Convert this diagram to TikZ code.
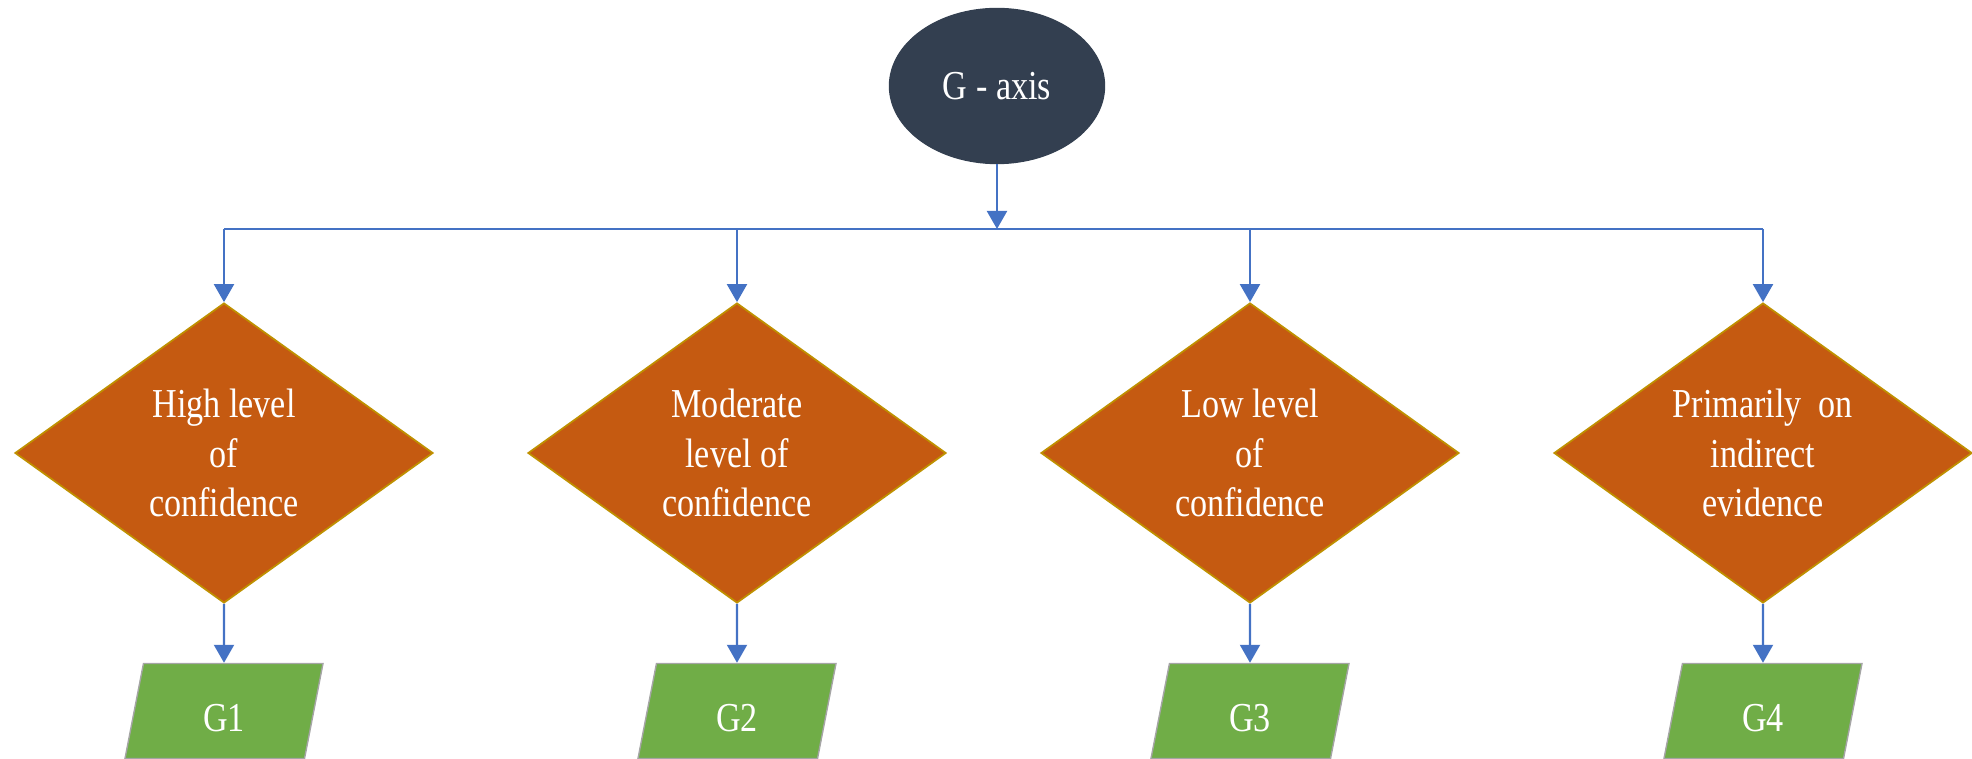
\documentclass[tikz,border=0pt]{standalone}
\usepackage{fontspec}
\usetikzlibrary{shapes.geometric,arrows.meta}
\newfontfamily\tnr[FakeStretch=0.83]{Liberation Serif}

\definecolor{slate}{HTML}{333F50}
\definecolor{rust}{HTML}{C55A11}
\definecolor{gold}{HTML}{BF9000}
\definecolor{leaf}{HTML}{70AD47}
\definecolor{edgegray}{HTML}{A5A5A5}
\definecolor{linkblue}{HTML}{4472C4}

\tikzset{
  txt/.style={text=white, font=\tnr\fontsize{11.7pt}{14.2pt}\selectfont, align=center},
  axisnode/.style={txt, ellipse, fill=slate, draw=slate, minimum width=21.5mm, minimum height=15.5mm},
  decide/.style={txt, diamond, aspect=1.4, fill=rust, draw=gold, line width=0.5pt, inner sep=0pt,
                 minimum width=41.8mm, minimum height=30mm},
  grade/.style={txt, trapezium, trapezium left angle=79, trapezium right angle=101,
                trapezium stretches body, fill=leaf, draw=edgegray, line width=0.4pt,
                inner sep=0pt, text height=6.8mm, text depth=2.7mm, minimum width=19.8mm},
  link/.style={linkblue, line width=0.6pt},
  arr/.style={link, -{Triangle[width=2mm,length=1.8mm]}}
}

\begin{document}
\begin{tikzpicture}[x=0.1mm,y=-0.1mm]
  \useasboundingbox (0,0) rectangle (1972,759);

  \node[axisnode] (gax) at (997,86) {G - axis};
  \coordinate (bus) at (997,229);

  \node[decide] (d1) at (224,453) {High level\\of\\confidence};
  \node[decide] (d2) at (737,453) {Moderate\\level of\\confidence};
  \node[decide] (d3) at (1250,453) {Low level\\of\\confidence};
  \node[decide] (d4) at (1763,453) {Primarily\ \ on\\indirect\\evidence};

  \node[grade] (g1) at (224,711) {G1};
  \node[grade] (g2) at (737,711) {G2};
  \node[grade] (g3) at (1250,711) {G3};
  \node[grade] (g4) at (1763,711) {G4};

  % connectors
  \draw[arr] (gax.south) -- (bus);
  \draw[link] (d1.north |- bus) -- (d4.north |- bus);
  \draw[arr] (d1.north |- bus) -- (d1.north);
  \draw[arr] (d2.north |- bus) -- (d2.north);
  \draw[arr] (d3.north |- bus) -- (d3.north);
  \draw[arr] (d4.north |- bus) -- (d4.north);
  \draw[arr] (d1.south) -- (g1.north);
  \draw[arr] (d2.south) -- (g2.north);
  \draw[arr] (d3.south) -- (g3.north);
  \draw[arr] (d4.south) -- (g4.north);
\end{tikzpicture}
\end{document}
